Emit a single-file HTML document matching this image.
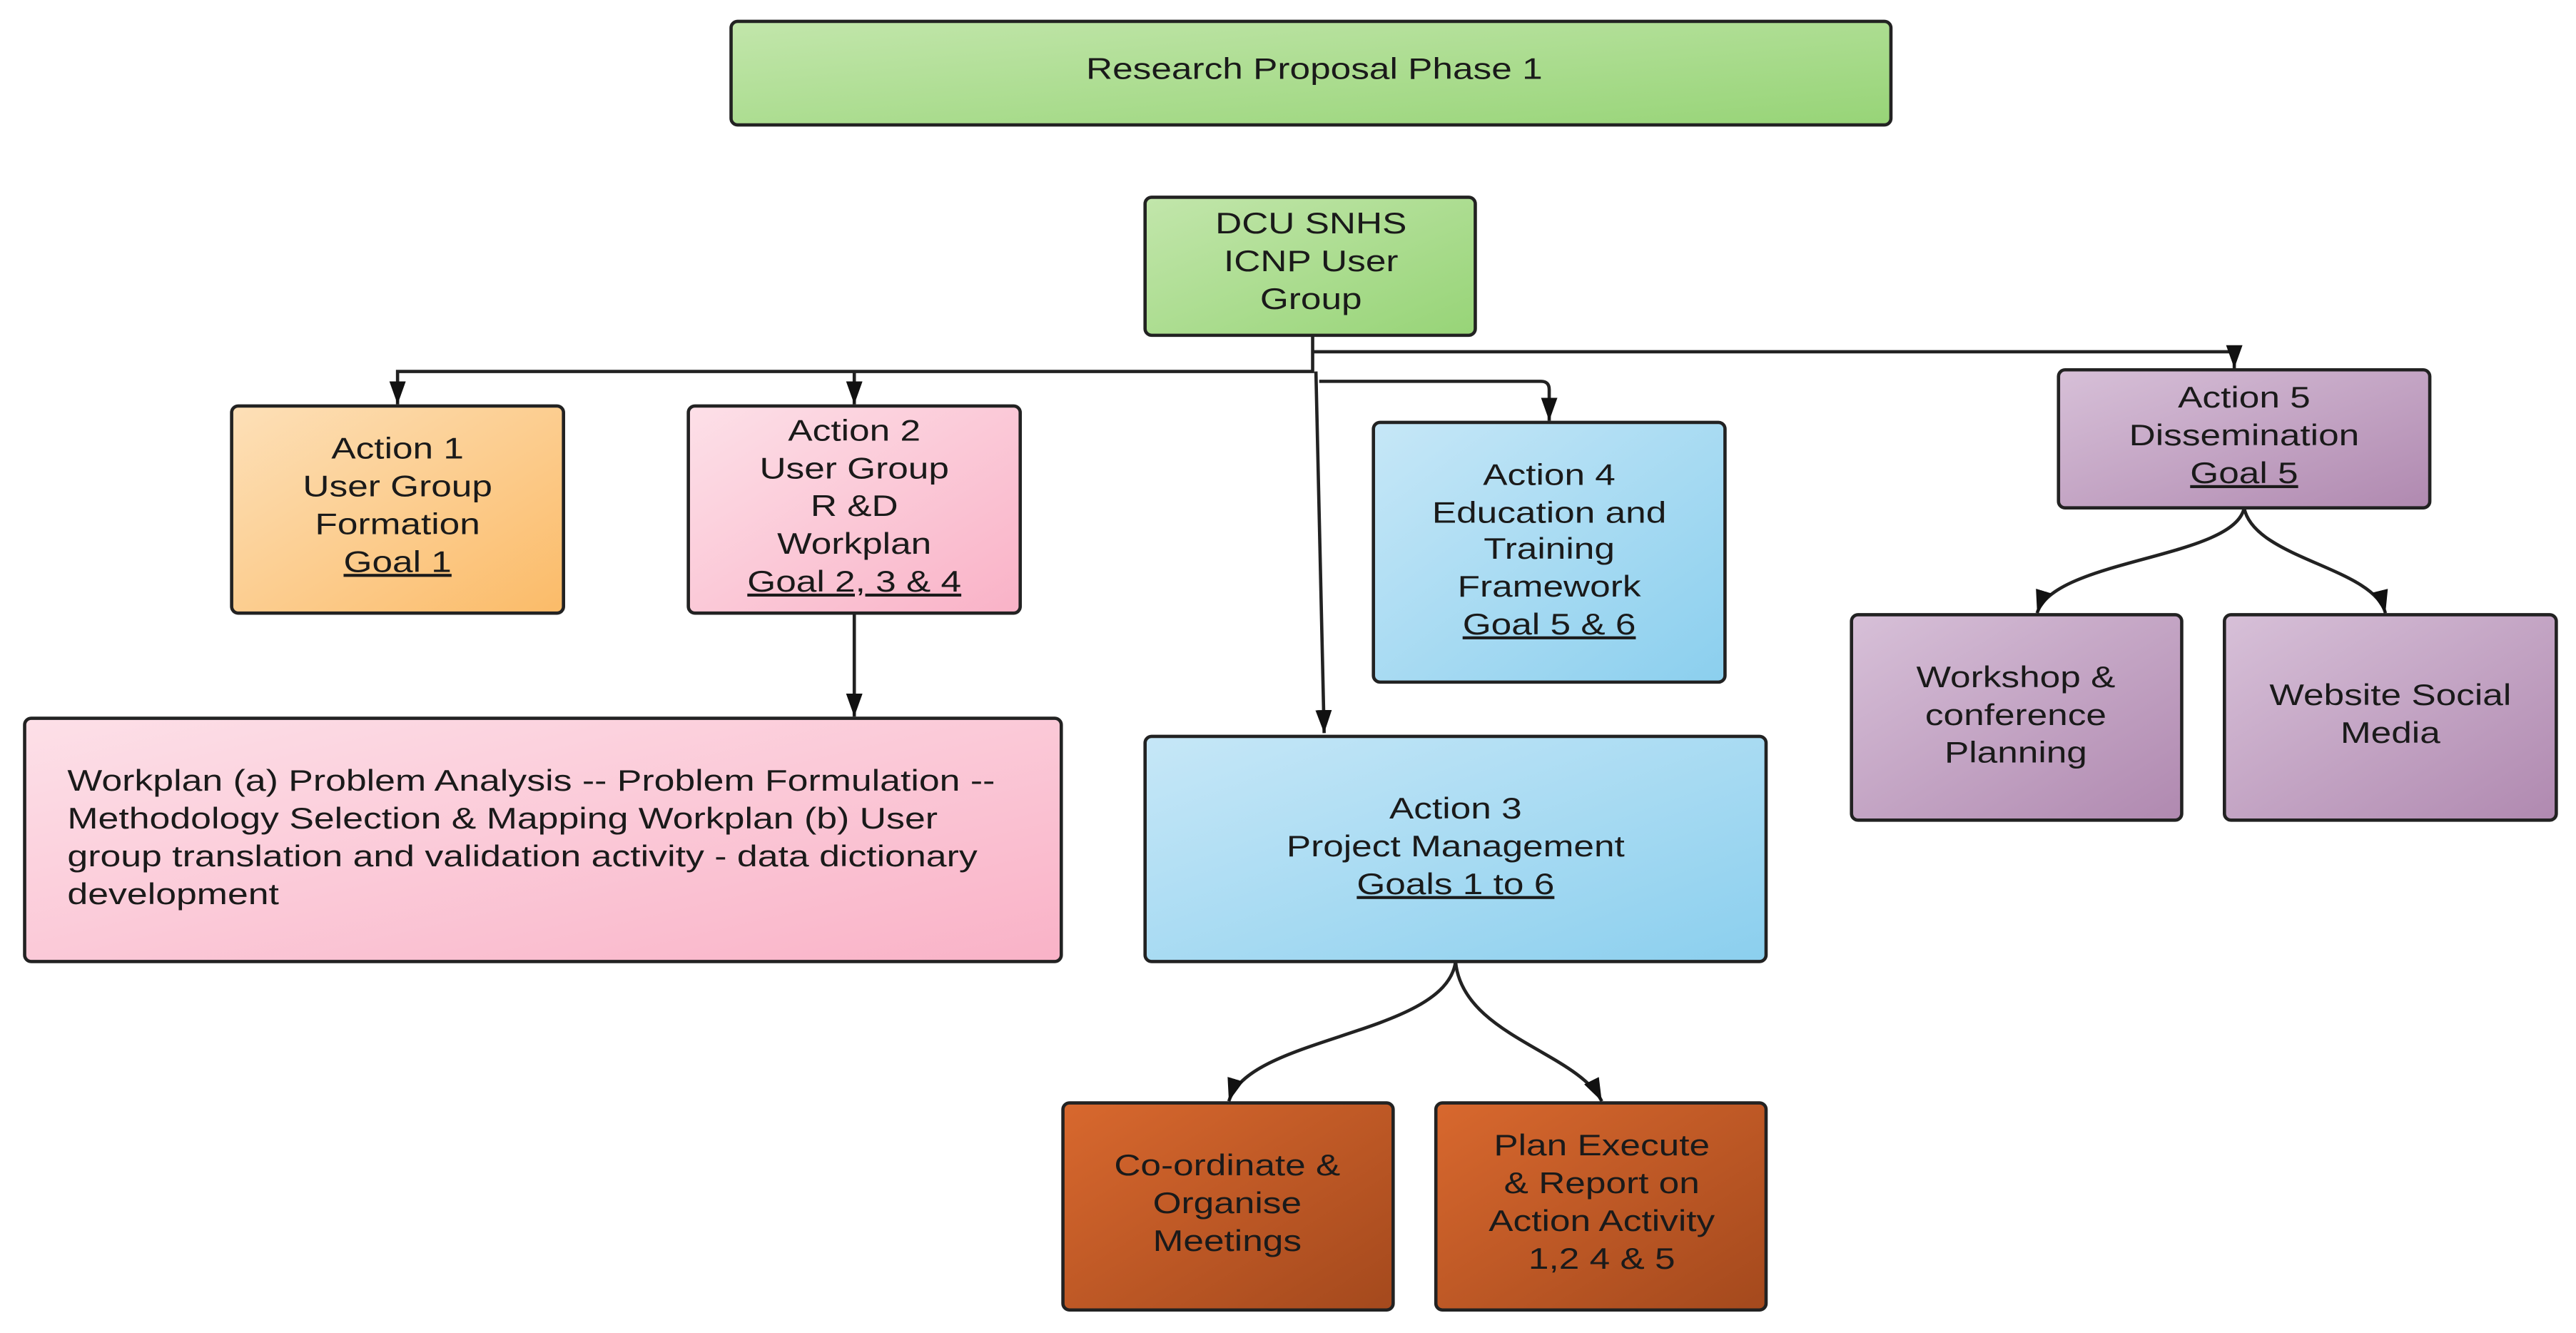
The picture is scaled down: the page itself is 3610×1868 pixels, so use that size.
<!DOCTYPE html>
<html><head><meta charset="utf-8"><style>html,body{margin:0;padding:0;background:#fff}svg{display:block}</style></head>
<body>
<svg width="3610" height="1868" viewBox="0 0 1568 811" preserveAspectRatio="none" xmlns="http://www.w3.org/2000/svg" font-family="Liberation Sans, sans-serif" font-size="18" fill="#1a1a1a">
<defs>
<linearGradient id="g" x1="0" y1="0" x2="1" y2="1"><stop offset="0" stop-color="#c2e6ab"/><stop offset="1" stop-color="#97d477"/></linearGradient>
<linearGradient id="o" x1="0" y1="0" x2="1" y2="1"><stop offset="0" stop-color="#fde0b8"/><stop offset="1" stop-color="#fbbb68"/></linearGradient>
<linearGradient id="p" x1="0" y1="0" x2="1" y2="1"><stop offset="0" stop-color="#fde0e8"/><stop offset="1" stop-color="#f9b2c7"/></linearGradient>
<linearGradient id="b" x1="0" y1="0" x2="1" y2="1"><stop offset="0" stop-color="#c6e7f7"/><stop offset="1" stop-color="#8bcfee"/></linearGradient>
<linearGradient id="v" x1="0" y1="0" x2="1" y2="1"><stop offset="0" stop-color="#d7c0d8"/><stop offset="1" stop-color="#b089b0"/></linearGradient>
<linearGradient id="r" x1="0" y1="0" x2="1" y2="1"><stop offset="0" stop-color="#d8682e"/><stop offset="1" stop-color="#a4491d"/></linearGradient>
<marker id="a" viewBox="0 0 14 10" refX="14" refY="5" markerWidth="14" markerHeight="10" orient="auto" markerUnits="userSpaceOnUse"><path d="M0,0 L14,5 L0,10 z" fill="#111"/></marker>
</defs>
<g stroke="#222" stroke-width="2" fill="none">
<path d="M799,204 V226 H242 V246" marker-end="url(#a)"/>
<path d="M520,226 V246" marker-end="url(#a)"/>
<path d="M799,214 H1360 V224" marker-end="url(#a)"/>
<path d="M803,232 H938 Q943,232 943,237 V256" marker-end="url(#a)"/>
<path d="M801,226 L806,446" marker-end="url(#a)"/>
<path d="M520,373 V436" marker-end="url(#a)"/>
<path d="M1366,309 C1360,340 1250,340 1240,373" marker-end="url(#a)"/>
<path d="M1366,309 C1372,340 1445,345 1452,373" marker-end="url(#a)"/>
<path d="M886,585 C880,630 760,630 748,670" marker-end="url(#a)"/>
<path d="M886,585 C890,630 960,640 975,670" marker-end="url(#a)"/>
</g>
<g stroke="#222" stroke-width="2">
<rect x="445" y="13" width="706" height="63" rx="4" fill="url(#g)"/>
<rect x="697" y="120" width="201" height="84" rx="4" fill="url(#g)"/>
<rect x="141" y="247" width="202" height="126" rx="4" fill="url(#o)"/>
<rect x="419" y="247" width="202" height="126" rx="4" fill="url(#p)"/>
<rect x="15" y="437" width="631" height="148" rx="4" fill="url(#p)"/>
<rect x="836" y="257" width="214" height="158" rx="4" fill="url(#b)"/>
<rect x="1253" y="225" width="226" height="84" rx="4" fill="url(#v)"/>
<rect x="1127" y="374" width="201" height="125" rx="4" fill="url(#v)"/>
<rect x="1354" y="374" width="202" height="125" rx="4" fill="url(#v)"/>
<rect x="697" y="448" width="378" height="137" rx="4" fill="url(#b)"/>
<rect x="647" y="671" width="201" height="126" rx="4" fill="url(#r)"/>
<rect x="874" y="671" width="201" height="126" rx="4" fill="url(#r)"/>
</g>
<g text-anchor="middle">
<g transform="translate(800 0) scale(1.24 1)"><text x="0" y="48">Research Proposal Phase 1</text></g>
<g transform="translate(798 0) scale(1.24 1)"><text x="0" y="142">DCU SNHS</text><text x="0" y="165">ICNP User</text><text x="0" y="188">Group</text></g>
<g transform="translate(242 0) scale(1.24 1)"><text x="0" y="279">Action 1</text><text x="0" y="302">User Group</text><text x="0" y="325">Formation</text><text x="0" y="348" text-decoration="underline">Goal 1</text></g>
<g transform="translate(520 0) scale(1.24 1)"><text x="0" y="268">Action 2</text><text x="0" y="291">User Group</text><text x="0" y="314">R &amp;D</text><text x="0" y="337">Workplan</text><text x="0" y="360" text-decoration="underline">Goal 2, 3 &amp; 4</text></g>
<g transform="translate(943 0) scale(1.24 1)"><text x="0" y="295">Action 4</text><text x="0" y="318">Education and</text><text x="0" y="340">Training</text><text x="0" y="363">Framework</text><text x="0" y="386" text-decoration="underline">Goal 5 &amp; 6</text></g>
<g transform="translate(1366 0) scale(1.24 1)"><text x="0" y="248">Action 5</text><text x="0" y="271">Dissemination</text><text x="0" y="294" text-decoration="underline">Goal 5</text></g>
<g transform="translate(1227 0) scale(1.24 1)"><text x="0" y="418">Workshop &amp;</text><text x="0" y="441">conference</text><text x="0" y="464">Planning</text></g>
<g transform="translate(1455 0) scale(1.24 1)"><text x="0" y="429">Website Social</text><text x="0" y="452">Media</text></g>
<g transform="translate(886 0) scale(1.24 1)"><text x="0" y="498">Action 3</text><text x="0" y="521">Project Management</text><text x="0" y="544" text-decoration="underline">Goals 1 to 6</text></g>
<g transform="translate(747 0) scale(1.24 1)"><text x="0" y="715">Co-ordinate &amp;</text><text x="0" y="738">Organise</text><text x="0" y="761">Meetings</text></g>
<g transform="translate(975 0) scale(1.24 1)"><text x="0" y="703">Plan Execute</text><text x="0" y="726">&amp; Report on</text><text x="0" y="749">Action Activity</text><text x="0" y="772">1,2 4 &amp; 5</text></g>
</g>
<g transform="translate(41 0) scale(1.25 1)">
<text x="0" y="481">Workplan (a) Problem Analysis -- Problem Formulation --</text>
<text x="0" y="504">Methodology Selection &amp; Mapping Workplan (b) User</text>
<text x="0" y="527">group translation and validation activity - data dictionary</text>
<text x="0" y="550">development</text>
</g>
</svg>
</body></html>
